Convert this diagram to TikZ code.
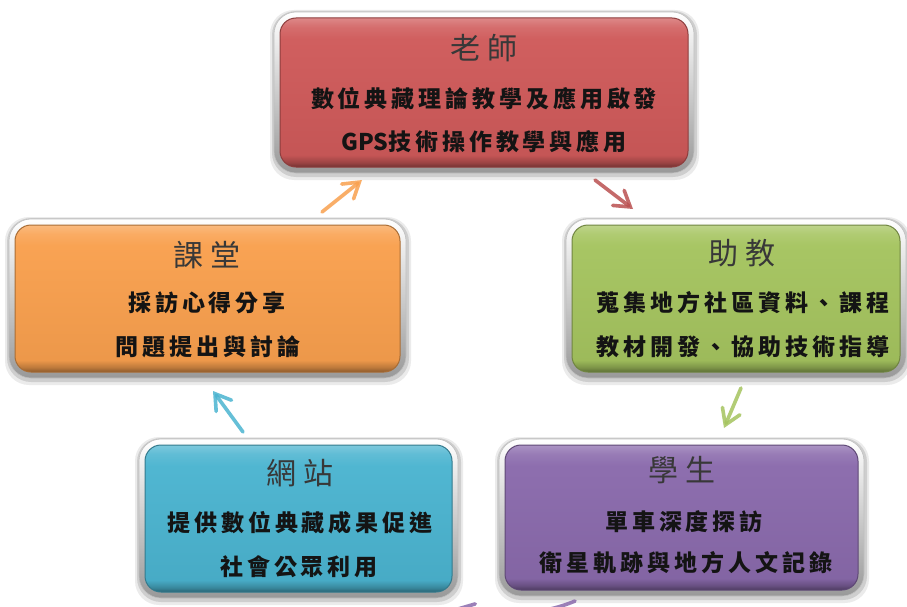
\documentclass[tikz,border=0pt]{standalone}
\usepackage{fontspec}
\newfontfamily\cjk{Noto Sans CJK TC}
\usetikzlibrary{arrows.meta,backgrounds,calc}
\definecolor{cRed}{HTML}{CF5A5A}
\definecolor{cOrange}{HTML}{F9A04E}
\definecolor{cGreen}{HTML}{A5C45F}
\definecolor{cBlue}{HTML}{4BB4D0}
\definecolor{cPurple}{HTML}{8A6AAC}
\colorlet{boxc}{cRed}
\pgfdeclareverticalshading[boxc]{bevel}{100bp}{%
  color(0bp)=(boxc!55!black); color(25bp)=(boxc!55!black);
  color(26.5bp)=(boxc!75!black); color(29bp)=(boxc!95!black);
  color(68bp)=(boxc!97!white); color(72bp)=(boxc!88!white);
  color(75bp)=(boxc!72!white); color(100bp)=(boxc!72!white)}
\tikzset{
  panel/.style={rectangle, rounded corners=16pt, inner sep=0pt, outer sep=0pt,
    /utils/exec={\colorlet{boxc}{#1}}, shading=bevel, draw=#1!68!black, line width=1pt},
  frame/.style={rounded corners=22pt, top color=white, bottom color=black!40, draw=black!25, line width=0.6pt},
  softshadow/.style={fill=black, opacity=#1, rounded corners=24pt},
  ttl/.style={font=\cjk\fontsize{30}{30}\selectfont\addfontfeature{LetterSpace=23}, text=black!78, inner sep=0pt},
  body/.style={font=\cjk\bfseries\fontsize{23}{23}\selectfont\addfontfeature{LetterSpace=17}, text=black!92, inner sep=0pt},
  flow/.style={draw=#1, line width=3.6pt, line cap=round, opacity=.85,
    -{Straight Barb[length=15pt,width=19pt,line cap=round]}},
}
\begin{document}
\begin{tikzpicture}[x=1pt,y=-1pt]
\useasboundingbox (0,0) rectangle (907,607);
\clip (0,0) rectangle (907,607);

% panels
\node[panel=cRed,    minimum width=408pt, minimum height=149pt] (T) at (484,92.5) {};
\node[panel=cOrange, minimum width=385pt, minimum height=147pt] (C) at (207.5,298.5) {};
\node[panel=cGreen,  minimum width=328pt, minimum height=147pt] (A) at (736,298.5) {};
\node[panel=cBlue,   minimum width=307pt, minimum height=147pt] (W) at (298.5,518.5) {};
\node[panel=cPurple, minimum width=353pt, minimum height=145pt] (S) at (681.5,517.5) {};

\begin{scope}[on background layer]
  \fill[white] (0,0) rectangle (907,607);
  \foreach \n in {T,C,A,W,S} {
    \path[softshadow=.08] ([shift={(-10,-8)}]\n.north west) rectangle ([shift={(11,13)}]\n.south east);
    \path[softshadow=.12] ([shift={(-8,-7)}]\n.north west) rectangle ([shift={(9,10)}]\n.south east);
    \path[frame] ([shift={(-6,-6)}]\n.north west) rectangle ([shift={(6,6)}]\n.south east);
  }
\end{scope}

% texts
\node[ttl]  (Tt) at (484,48)  {老師};
\node[body] (T1) at (484,99)  {數位典藏理論教學及應用啟發};
\node[body] (T2) at (484,142) {{\addfontfeature{LetterSpace=0}GPS}技術操作教學與應用};

\node[ttl]  (Ct) at (207,255) {課堂};
\node[body] (C1) at (207,303) {採訪心得分享};
\node[body] (C2) at (208,347) {問題提出與討論};

\node[ttl]  (At) at (742,253) {助教};
\node[body] (A1) at (743,303) {蒐集地方社區資料、課程};
\node[body] (A2) at (743,347) {教材開發、協助技術指導};

\node[ttl]  (Wt) at (300,473) {網站};
\node[body] (W1) at (300,523) {提供數位典藏成果促進};
\node[body] (W2) at (299,567) {社會公眾利用};

\node[ttl]  (St) at (682,470) {學生};
\node[body] (S1) at (684,522) {單車深度探訪};
\node[body] (S2) at (686,563) {衛星軌跡與地方人文記錄};

% arrows
\coordinate (o1) at (322,212); \coordinate (o2) at (362,180);
\coordinate (r1) at (595,180); \coordinate (r2) at (633,209);
\coordinate (g1) at (741,388); \coordinate (g2) at (724,428);
\coordinate (b1) at (243,432); \coordinate (b2) at (213,391);
\coordinate (p1) at (575,601); \coordinate (p2) at (455,608);
\draw[flow=cOrange] (o1) -- (o2);
\draw[flow=cRed!90!black] (r1) -- (r2);
\draw[flow=cGreen] (g1) -- (g2);
\draw[flow=cBlue] (b1) -- (b2);
\draw[flow=cPurple] (p1) .. controls (540,616) and (490,618) .. (p2);
\end{tikzpicture}
\end{document}
